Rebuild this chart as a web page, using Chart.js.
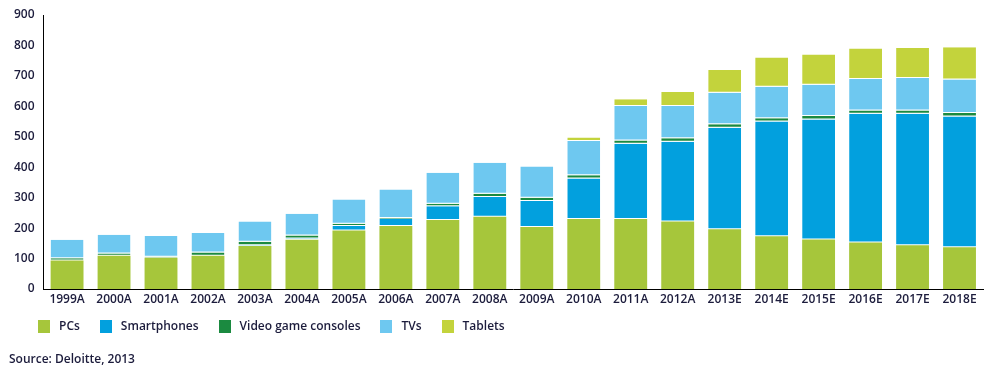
<!DOCTYPE html>
<html>
<head>
<meta charset="utf-8">
<script src="https://cdn.jsdelivr.net/npm/chart.js@4"></script>
<style>
  html, body { margin: 0; padding: 0; background: #fff; }
  #wrap { position: relative; width: 991px; height: 371px; font-family: "Open Sans", sans-serif; font-weight: 600; color: #1c1c3c; }
  #legend { position: absolute; left: 38px; top: 319px; display: flex; font-size: 12px; line-height: 14px; }
  #legend .item { display: flex; align-items: center; margin-right: 20px; }
  #legend .box { width: 12px; height: 13px; margin-right: 9px; }
  #source { position: absolute; left: 9px; top: 351px; font-size: 12px; line-height: 16px; }
</style>
</head>
<body>
<div id="wrap">
  <canvas id="devicesChart"></canvas>
  <div id="legend"></div>
  <div id="source">Source: Deloitte, 2013</div>
</div>
<script>
const categories = ['1999A','2000A','2001A','2002A','2003A','2004A','2005A','2006A','2007A','2008A',
                    '2009A','2010A','2011A','2012A','2013E','2014E','2015E','2016E','2017E','2018E'];
const pcs         = [94,109,103,109,141,162,192,207,227,237,204,230,230,222,196,173,163,153,144,137];
const smartphones = [0,0,0,0,3,4,15,23,45,65,85,133,247,262,334,377,394,423,432,430];
const consoles    = [7,8,3,11,11,10,7,3,8,11,11,11,11,11,11,11,11,10,10,11];
const tvs         = [61,61,68,64,67,71,80,94,102,102,102,112,113,106,104,103,103,104,107,110];
const tablets     = [0,0,0,0,0,0,0,0,0,0,0,12,22,46,74,96,99,100,99,106];
const yTicks      = [0,100,200,300,400,500,600,700,800,900];

const series = [
    { label: 'PCs', data: pcs, color: '#a6c63b' },
    { label: 'Smartphones', data: smartphones, color: '#02a0de' },
    { label: 'Video game consoles', data: consoles, color: '#1b8a40' },
    { label: 'TVs', data: tvs, color: '#6ec8f0' },
    { label: 'Tablets', data: tablets, color: '#c3d33c' }
];

const textColor = '#1c1c3c';
const tickFont = { family: 'Open Sans', size: 12, weight: '600', lineHeight: 1 };
const ctx = document.getElementById('devicesChart').getContext('2d');
const chart = new Chart(ctx, {
    type: 'bar',
    data: {
        labels: categories,
        datasets: series.map((s, i) => ({
            label: s.label,
            data: s.data,
            backgroundColor: s.color,
            borderColor: '#ffffff',
            // línea blanca entre segmentos apilados
            borderWidth: i === 0 ? 0 : { top: 0, right: 0, bottom: 1, left: 0 },
            borderSkipped: false,
            barPercentage: 0.7,
            categoryPercentage: 1
        }))
    },
    options: {
        responsive: true,
        maintainAspectRatio: false,
        animation: false,
        layout: { padding: { left: 5, right: 8, top: 0, bottom: 60 } },
        plugins: {
            legend: { display: false },
            tooltip: { mode: 'index' }
        },
        scales: {
            x: {
                stacked: true,
                grid: { display: false, drawTicks: false },
                border: { display: true, color: '#000000', width: 1 },
                ticks: { color: textColor, font: tickFont, padding: 5, maxRotation: 0, autoSkip: false }
            },
            y: {
                stacked: true,
                min: 0,
                max: 900,
                afterBuildTicks: axis => { axis.ticks = yTicks.map(v => ({ value: v })); },
                grid: { display: false, drawTicks: false },
                border: { display: true, color: '#000000', width: 1 },
                ticks: { color: textColor, font: tickFont, padding: 9 }
            }
        }
    }
});

// leyenda en HTML
const legend = document.getElementById('legend');
legend.innerHTML = series.map(s =>
    `<div class="item"><span class="box" style="background:${s.color}"></span><span>${s.label}</span></div>`
).join('');
</script>
</body>
</html>
